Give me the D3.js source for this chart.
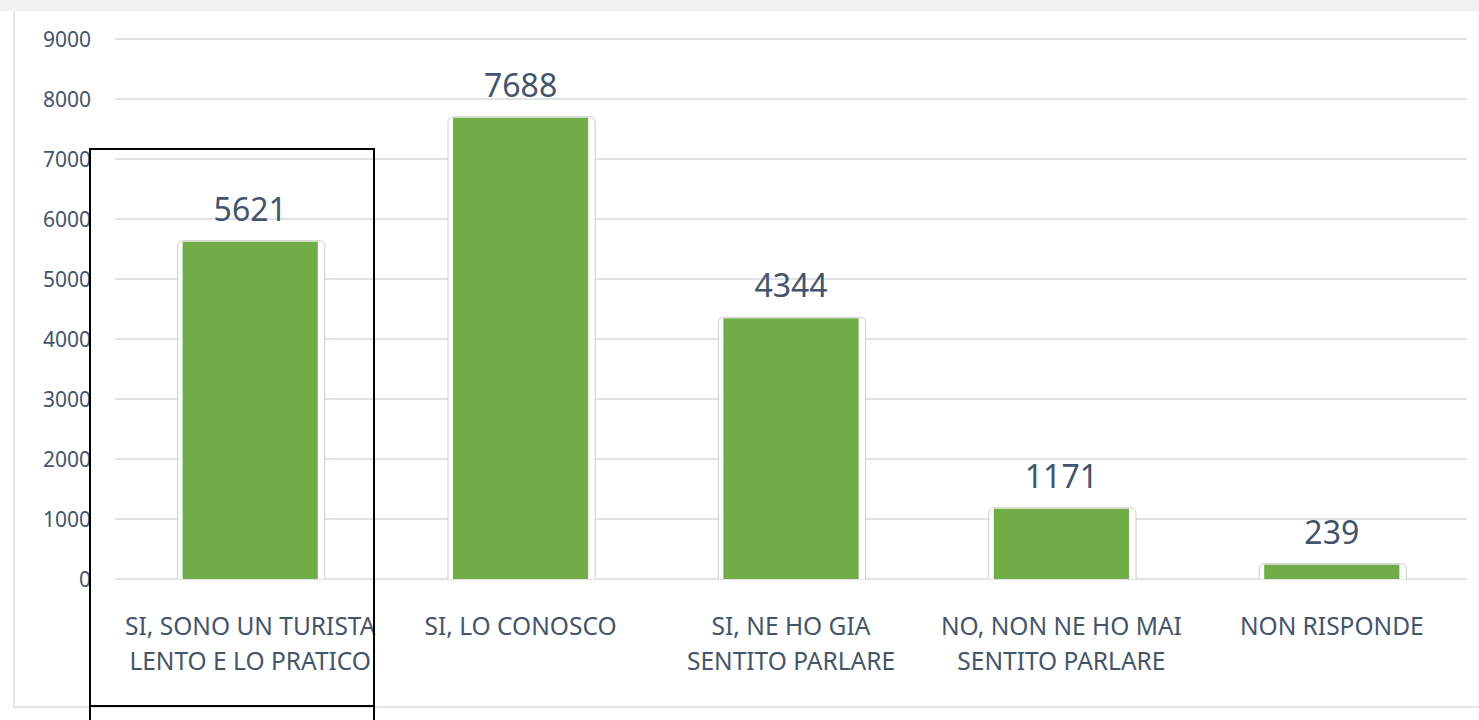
<!DOCTYPE html>
<html lang="en">
<head>
<meta charset="utf-8">
<title>Chart</title>
<script type="text/javascript" src="https://d3js.org/d3.v7.min.js"></script>
<style>
body { margin: 0; background: #fff; }
text { font-family: "Noto Sans", sans-serif; fill: #44546a; }
</style>
</head>
<body>
<div id="chart"></div>
<script type="text/javascript">

// data
var categories = ["SI, SONO UN TURISTA|LENTO E LO PRATICO", "SI, LO CONOSCO",
                  "SI, NE HO GIA|SENTITO PARLARE", "NO, NON NE HO MAI|SENTITO PARLARE", "NON RISPONDE"];
var values = [5621, 7688, 4344, 1171, 239];
var yTicks = [0, 1000, 2000, 3000, 4000, 5000, 6000, 7000, 8000, 9000];

var w = 1479, h = 720;
var svg = d3.select("#chart").append("svg").attr("width", w).attr("height", h);

// panel background + borders
svg.append("rect").attr("x", 0).attr("y", 0).attr("width", w).attr("height", 11).attr("fill", "#f1f1f1");
svg.append("line").attr("x1", 14).attr("x2", 14).attr("y1", 11).attr("y2", 707)
   .attr("stroke", "#e2e6ec").attr("stroke-width", 2);
svg.append("line").attr("x1", 13).attr("x2", w).attr("y1", 707).attr("y2", 707)
   .attr("stroke", "#e2e6ec").attr("stroke-width", 2);

var x = d3.scaleBand().domain(categories).range([115, 1467]).paddingInner(0.5).paddingOuter(0.25);
var y = d3.scaleLinear().domain([0, 9000]).range([579, 39]);

// gridlines
svg.append("g").selectAll("line").data(yTicks).enter().append("line")
   .attr("x1", 115).attr("x2", 1467)
   .attr("y1", d => y(d)).attr("y2", d => y(d))
   .attr("stroke", "#dfe3e9").attr("stroke-width", 2);

// y labels
svg.append("g").selectAll("text").data(yTicks).enter().append("text")
   .attr("x", 91).attr("y", d => y(d) + 7.5)
   .attr("text-anchor", "end").style("font-size", "21px")
   .text(d => d);

// bar shadows
svg.append("g").selectAll("path").data(values).enter().append("path")
   .attr("d", function(d, i) {
     var x0 = x(categories[i]) - 5, x1 = x(categories[i]) + x.bandwidth() + 7;
     var y0 = y(d) - 1, y1 = y(0), r = 6;
     return "M" + x0 + "," + y1 + "V" + (y0 + r) + "Q" + x0 + "," + y0 + " " + (x0 + r) + "," + y0 +
            "H" + (x1 - r) + "Q" + x1 + "," + y0 + " " + x1 + "," + (y0 + r) + "V" + y1;
   })
   .attr("fill", "#fff").attr("stroke", "#cccccc").attr("stroke-width", 1);

// bars
svg.append("g").selectAll("rect").data(values).enter().append("rect")
   .attr("x", (d, i) => x(categories[i]))
   .attr("y", d => y(d))
   .attr("width", x.bandwidth())
   .attr("height", d => y(0) - y(d))
   .attr("fill", "#70ad47");

// value labels
svg.append("g").selectAll("text").data(values).enter().append("text")
   .attr("x", (d, i) => x(categories[i]) + x.bandwidth() / 2)
   .attr("y", d => y(d) - 21)
   .attr("text-anchor", "middle").style("font-size", "32px")
   .text(d => d);

// category labels
var cat = svg.append("g").selectAll("text").data(categories).enter().append("text")
   .attr("text-anchor", "middle").style("font-size", "24.5px");
cat.selectAll("tspan").data(d => d.split("|").map(s => ({ s: s, c: d }))).enter().append("tspan")
   .attr("x", d => x(d.c) + x.bandwidth() / 2)
   .attr("y", (d, j) => 635 + j * 35)
   .text(d => d.s);

// black frame
var frame = svg.append("g").attr("stroke", "#000").attr("stroke-width", 2).attr("fill", "none");
frame.append("path").attr("d", "M90,720V149H374V720");
frame.append("line").attr("x1", 90).attr("x2", 374).attr("y1", 706).attr("y2", 706);

</script>
</body>
</html>
